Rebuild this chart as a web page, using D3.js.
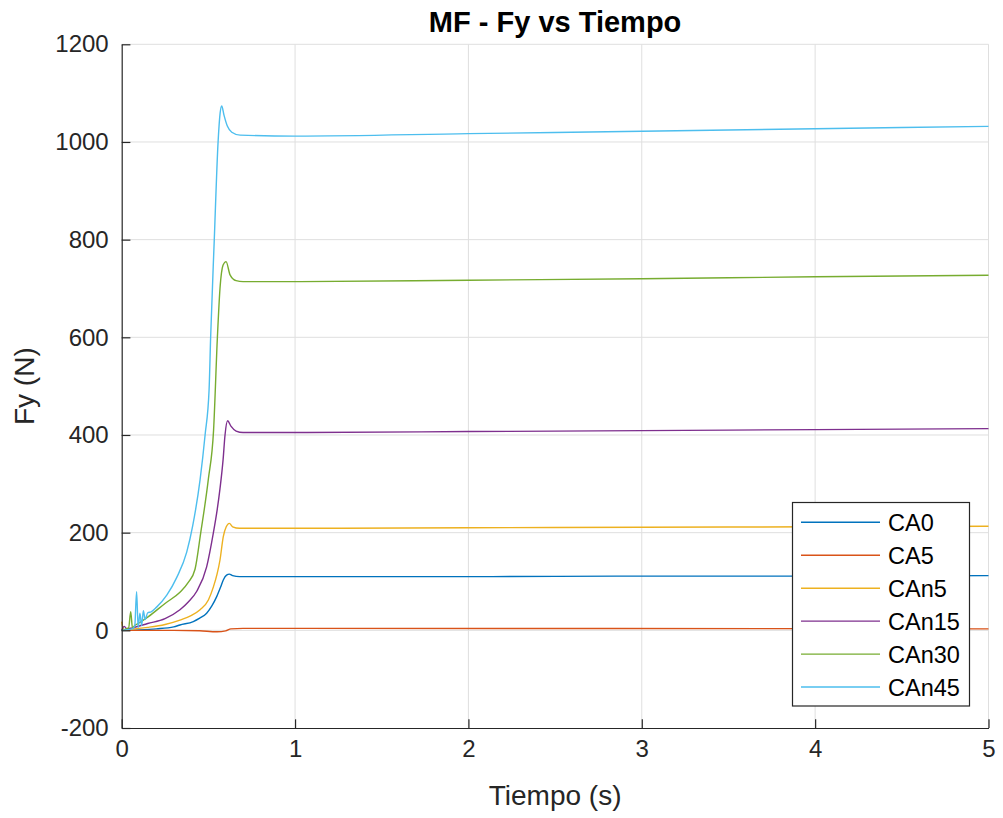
<!DOCTYPE html>
<html>
<head>
<meta charset="utf-8">
<script src="https://cdn.jsdelivr.net/npm/d3@7"></script>
<style>
  body { margin: 0; background: #fff; }
  svg { font-family: "Liberation Sans", Arial, sans-serif; }
</style>
</head>
<body>
<div id="chart"></div>
<script>
// values: [tiempo (s), Fy (N)]
var ca0 = [[0,0],[0.1,1],[0.2,3],[0.3,7],[0.336,11],[0.413,18],[0.45,25],[0.49,35],[0.52,50],[0.548,69],[0.57,88],[0.586,103],[0.605,113],[0.621,115],[0.64,112],[0.68,110],[1,110],[2,110],[3,111],[4,111],[5,112]];
var ca5 = [[0,0],[0.3,0],[0.45,-1],[0.55,-3],[0.6,-1],[0.63,3],[0.7,4],[1,4],[5,3]];
var can5 = [[0,18],[0.005,8],[0.012,1],[0.05,2],[0.15,6],[0.25,12],[0.336,21],[0.4,30],[0.452,42],[0.5,62],[0.529,89],[0.55,115],[0.567,144],[0.586,192],[0.603,212],[0.621,219],[0.64,212],[0.68,209],[1,209],[2,210],[3,211],[4,212],[5,213]];
var can15 = [[0,0],[0.015,8],[0.03,3],[0.06,5],[0.15,14],[0.25,24],[0.336,42],[0.384,58],[0.433,80],[0.49,130],[0.529,200],[0.55,245],[0.567,290],[0.585,350],[0.596,400],[0.611,429],[0.63,418],[0.66,408],[0.7,405],[1,405],[2,407],[3,409],[4,411],[5,413]];
var can30 = [[0,0],[0.04,5],[0.052,38],[0.062,5],[0.075,10],[0.1,15],[0.154,28],[0.25,55],[0.336,78],[0.384,98],[0.423,125],[0.456,200],[0.5,310],[0.53,410],[0.552,600],[0.567,700],[0.585,748],[0.602,755],[0.625,728],[0.66,716],[0.7,714],[1,714],[2,717],[3,720],[4,724],[5,727]];
var can45 = [[0,0],[0.06,3],[0.075,8],[0.086,79],[0.095,5],[0.105,35],[0.115,10],[0.125,40],[0.135,22],[0.15,36],[0.17,38],[0.2,47],[0.26,72],[0.317,108],[0.375,160],[0.41,215],[0.452,308],[0.481,400],[0.504,492],[0.513,600],[0.534,800],[0.556,1000],[0.568,1060],[0.577,1074],[0.59,1055],[0.61,1032],[0.635,1020],[0.683,1014],[1,1012],[2,1017],[3,1022],[4,1027],[5,1032]];

var seriesNames = ["CA0", "CA5", "CAn5", "CAn15", "CAn30", "CAn45"];
var seriesData = [ca0, ca5, can5, can15, can30, can45];
var colors = ["#0072BD", "#D95319", "#EDB120", "#7E2F8E", "#77AC30", "#4DBEEE"];

var xTicks = [0, 1, 2, 3, 4, 5];
var yTicks = [-200, 0, 200, 400, 600, 800, 1000, 1200];

var margin = { top: 44.3, right: 14.5, bottom: 90, left: 121.7 },
    width = 1003 - margin.left - margin.right,
    height = 818 - margin.top - margin.bottom;

var svg = d3.select("#chart")
    .append("svg")
    .attr("width", 1003)
    .attr("height", 818);

var g = svg.append("g")
    .attr("transform", "translate(" + margin.left + "," + margin.top + ")");

var x = d3.scaleLinear().domain([0, 5]).range([0, width]);
var y = d3.scaleLinear().domain([-200, 1200]).range([height, 0]);

// grid
g.selectAll(".vgrid").data(xTicks.slice(1)).enter().append("line")
    .attr("x1", d => x(d)).attr("x2", d => x(d))
    .attr("y1", 0).attr("y2", height)
    .attr("stroke", "#dfdfdf").attr("stroke-width", 1);
g.selectAll(".hgrid").data(yTicks.slice(1)).enter().append("line")
    .attr("x1", 0).attr("x2", width)
    .attr("y1", d => y(d)).attr("y2", d => y(d))
    .attr("stroke", "#dfdfdf").attr("stroke-width", 1);

// lines
var line = d3.line()
    .x(d => x(d[0]))
    .y(d => y(d[1]))
    .curve(d3.curveMonotoneX);

seriesData.forEach(function (data, i) {
    g.append("path")
        .datum(data)
        .attr("fill", "none")
        .attr("stroke", colors[i])
        .attr("stroke-width", 1.4)
        .attr("d", line);
});

// axes
var plain = function (d) { return String(d); };
var xAxis = g.append("g")
    .attr("transform", "translate(0," + height + ")")
    .call(d3.axisBottom(x).tickValues(xTicks).tickFormat(plain).tickSizeInner(-8.7).tickSizeOuter(0).tickPadding(12));
var yAxis = g.append("g")
    .call(d3.axisLeft(y).tickValues(yTicks).tickFormat(plain).tickSizeInner(-8.7).tickSizeOuter(0).tickPadding(13));

[xAxis, yAxis].forEach(function (a) {
    a.select(".domain").attr("stroke", "#262626").attr("stroke-width", 1.2);
    a.selectAll(".tick line").attr("stroke", "#262626").attr("stroke-width", 1.2);
    a.selectAll(".tick text")
        .attr("fill", "#262626")
        .style("font-size", "24px")
        .style("font-family", "Liberation Sans, Arial, sans-serif");
});

// title and labels
svg.append("text")
    .attr("x", margin.left + width / 2)
    .attr("y", 32)
    .attr("text-anchor", "middle")
    .style("font-size", "29px")
    .style("font-weight", "bold")
    .attr("fill", "#000")
    .text("MF - Fy vs Tiempo");

svg.append("text")
    .attr("x", margin.left + width / 2)
    .attr("y", 805)
    .attr("text-anchor", "middle")
    .style("font-size", "28px")
    .attr("fill", "#262626")
    .text("Tiempo (s)");

svg.append("text")
    .attr("transform", "rotate(-90)")
    .attr("x", -(margin.top + height / 2))
    .attr("y", 34)
    .attr("text-anchor", "middle")
    .style("font-size", "28px")
    .attr("fill", "#262626")
    .text("Fy (N)");

// legend
var legend = svg.append("g");
legend.append("rect")
    .attr("x", 792.5).attr("y", 502.5)
    .attr("width", 177).attr("height", 203.5)
    .attr("fill", "#fff")
    .attr("stroke", "#262626")
    .attr("stroke-width", 1.2);

seriesNames.forEach(function (name, i) {
    var ly = 522.3 + i * 32.95;
    legend.append("line")
        .attr("x1", 801).attr("x2", 880)
        .attr("y1", ly).attr("y2", ly)
        .attr("stroke", colors[i]).attr("stroke-width", 1.4);
    legend.append("text")
        .attr("x", 888).attr("y", ly)
        .attr("dy", "0.36em")
        .style("font-size", "23.5px")
        .attr("fill", "#000")
        .text(name);
});
</script>
</body>
</html>
